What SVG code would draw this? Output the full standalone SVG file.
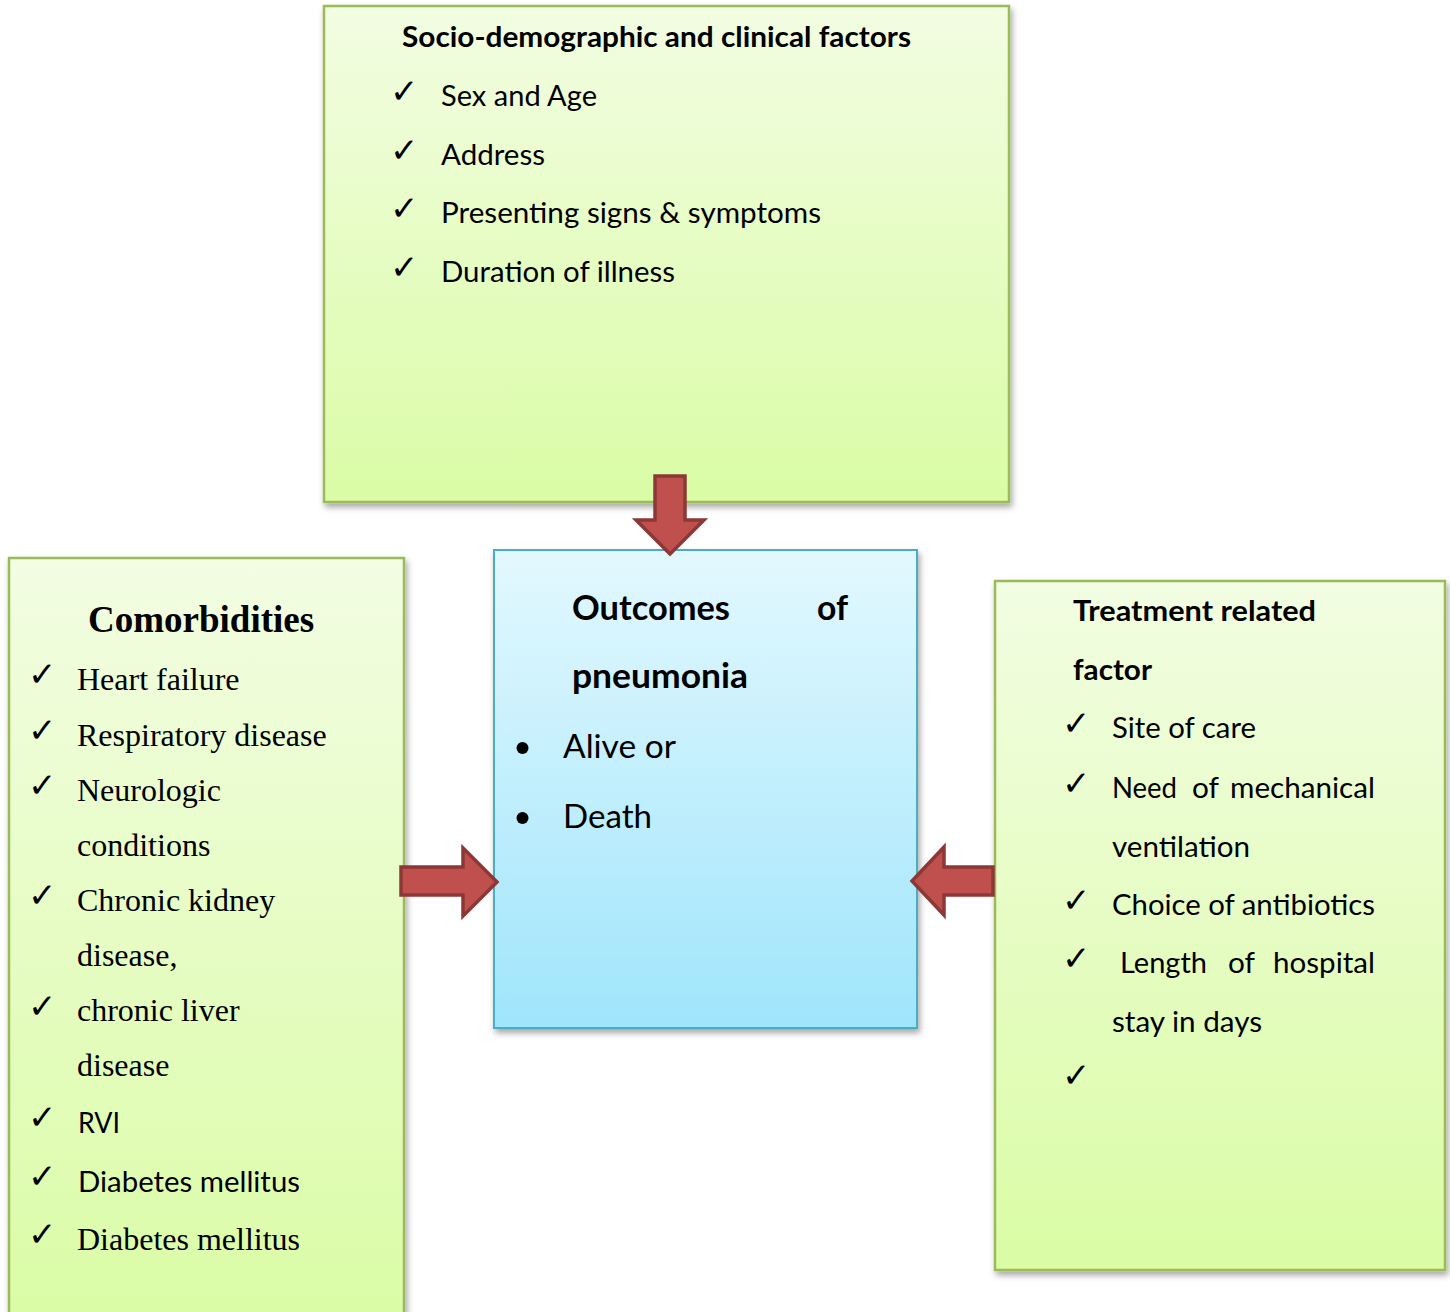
<svg xmlns="http://www.w3.org/2000/svg" width="1450" height="1312" viewBox="0 0 1450 1312">
<defs>
<linearGradient id="gGreen" x1="0" y1="0" x2="0" y2="1">
<stop offset="0" stop-color="#f2fde2"/>
<stop offset="1" stop-color="#dafca5"/>
</linearGradient>
<linearGradient id="gBlue" x1="0" y1="0" x2="0" y2="1">
<stop offset="0" stop-color="#e3f8fe"/>
<stop offset="1" stop-color="#9fe5fb"/>
</linearGradient>
<filter id="shadow" x="-5%" y="-5%" width="115%" height="115%">
<feDropShadow dx="2" dy="4" stdDeviation="3" flood-color="#000" flood-opacity="0.35"/>
</filter>
</defs>
<style>
.gbox{fill:url(#gGreen);stroke:#9bbb59;stroke-width:2.5;filter:url(#shadow)}
.bbox{fill:url(#gBlue);stroke:#4bacc6;stroke-width:2;filter:url(#shadow)}
.sans{font-family:Lato,"Liberation Sans",sans-serif;fill:#000}
.bold{font-weight:bold}
.serif{font-family:"Liberation Serif","Times New Roman",serif;fill:#000}
.chk{font-family:"DejaVu Sans",sans-serif;font-size:34px;font-weight:bold;fill:#000}
.arrow{fill:#c0504d;stroke:#8c3836;stroke-width:3.5;stroke-linejoin:miter}
</style>
<rect width="1450" height="1312" fill="#ffffff"/>

<g id="node-socio">
<rect class="gbox" x="324" y="6" width="685" height="496"/>
<text class="sans bold" x="402" y="47" font-size="28" textLength="509" lengthAdjust="spacingAndGlyphs">Socio-demographic and clinical factors</text>
<text class="chk" x="390" y="103">✓</text>
<text class="sans" x="441" y="106" font-size="29" textLength="156" lengthAdjust="spacingAndGlyphs">Sex and Age</text>
<text class="chk" x="390" y="162">✓</text>
<text class="sans" x="441" y="165" font-size="29" textLength="104" lengthAdjust="spacingAndGlyphs">Address</text>
<text class="chk" x="390" y="220">✓</text>
<text class="sans" x="441" y="223" font-size="29" textLength="380" lengthAdjust="spacingAndGlyphs">Presenting signs &amp; symptoms</text>
<text class="chk" x="390" y="279">✓</text>
<text class="sans" x="441" y="282" font-size="29" textLength="234" lengthAdjust="spacingAndGlyphs">Duration of illness</text>
</g>

<g id="node-comorbidities">
<rect class="gbox" x="9" y="558" width="395" height="770"/>
<text class="serif bold" x="88" y="632" font-size="37">Comorbidities</text>
<text class="chk" x="28" y="686">✓</text>
<text class="serif" x="77" y="690" font-size="32">Heart failure</text>
<text class="chk" x="28" y="742">✓</text>
<text class="serif" x="77" y="746" font-size="32">Respiratory disease</text>
<text class="chk" x="28" y="797">✓</text>
<text class="serif" x="77" y="801" font-size="32">Neurologic</text>
<text class="serif" x="77" y="856" font-size="32">conditions</text>
<text class="chk" x="28" y="907">✓</text>
<text class="serif" x="77" y="911" font-size="32">Chronic kidney</text>
<text class="serif" x="77" y="966" font-size="32">disease,</text>
<text class="chk" x="28" y="1018">✓</text>
<text class="serif" x="77" y="1021" font-size="32">chronic liver</text>
<text class="serif" x="77" y="1076" font-size="32">disease</text>
<text class="chk" x="28" y="1129">✓</text>
<text class="sans" x="78" y="1133" font-size="29" textLength="42" lengthAdjust="spacingAndGlyphs">RVI</text>
<text class="chk" x="28" y="1188">✓</text>
<text class="sans" x="78" y="1192" font-size="29" textLength="222" lengthAdjust="spacingAndGlyphs">Diabetes mellitus</text>
<text class="chk" x="28" y="1246">✓</text>
<text class="serif" x="77" y="1250" font-size="32">Diabetes mellitus</text>
</g>

<g id="node-outcomes">
<rect class="bbox" x="494" y="550" width="423" height="478"/>
<text class="sans bold" x="572" y="620" font-size="34" textLength="158" lengthAdjust="spacingAndGlyphs">Outcomes</text>
<text class="sans bold" x="817" y="620" font-size="34" textLength="31" lengthAdjust="spacingAndGlyphs">of</text>
<text class="sans bold" x="572" y="688" font-size="34" textLength="176" lengthAdjust="spacingAndGlyphs">pneumonia</text>
<circle cx="522.5" cy="748" r="6"/>
<text class="sans" x="563" y="758" font-size="32" textLength="113" lengthAdjust="spacingAndGlyphs">Alive or</text>
<circle cx="522.5" cy="818" r="6"/>
<text class="sans" x="563" y="828" font-size="32" textLength="89" lengthAdjust="spacingAndGlyphs">Death</text>
</g>

<g id="node-treatment">
<rect class="gbox" x="995" y="581" width="450" height="689"/>
<text class="sans bold" x="1073" y="621" font-size="28" textLength="243" lengthAdjust="spacingAndGlyphs">Treatment related</text>
<text class="sans bold" x="1073" y="680" font-size="28" textLength="79" lengthAdjust="spacingAndGlyphs">factor</text>
<text class="chk" x="1062" y="735">✓</text>
<text class="sans" x="1112" y="738" font-size="28.5" textLength="144" lengthAdjust="spacingAndGlyphs">Site of care</text>
<text class="chk" x="1062" y="795">✓</text>
<text class="sans" x="1112" y="798" font-size="28.5" textLength="65" lengthAdjust="spacingAndGlyphs">Need</text>
<text class="sans" x="1192" y="798" font-size="28.5" textLength="27" lengthAdjust="spacingAndGlyphs">of</text>
<text class="sans" x="1230" y="798" font-size="28.5" textLength="145" lengthAdjust="spacingAndGlyphs">mechanical</text>
<text class="sans" x="1112" y="857" font-size="28.5" textLength="138" lengthAdjust="spacingAndGlyphs">ventilation</text>
<text class="chk" x="1062" y="912">✓</text>
<text class="sans" x="1112" y="915" font-size="28.5" textLength="263" lengthAdjust="spacingAndGlyphs">Choice of antibiotics</text>
<text class="chk" x="1062" y="970">✓</text>
<text class="sans" x="1120" y="973" font-size="28.5" textLength="87" lengthAdjust="spacingAndGlyphs">Length</text>
<text class="sans" x="1228" y="973" font-size="28.5" textLength="27" lengthAdjust="spacingAndGlyphs">of</text>
<text class="sans" x="1273" y="973" font-size="28.5" textLength="102" lengthAdjust="spacingAndGlyphs">hospital</text>
<text class="sans" x="1112" y="1032" font-size="28.5" textLength="150" lengthAdjust="spacingAndGlyphs">stay in days</text>
<text class="chk" x="1062" y="1087">✓</text>
</g>

<g id="connectors">
<path class="arrow" d="M655,476 H685 V520 H704 L670,554 L636,520 H655 Z"/>
<path class="arrow" d="M401,867 H463 V848 L497,882 L463,916 V895 H401 Z"/>
<path class="arrow" d="M993,867 H944 V847 L912,881 L944,915 V895 H993 Z"/>
</g>
</svg>
